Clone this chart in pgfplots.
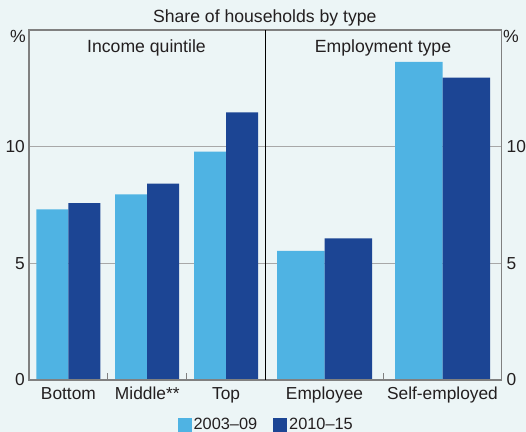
\documentclass[border=0pt]{standalone}
\usepackage{fontspec}
\setmainfont{Liberation Sans}
\usepackage{pgfplots}
\pgfplotsset{compat=1.18}

\definecolor{bg}{HTML}{ECF5F6}
\definecolor{lightbar}{HTML}{4FB3E3}
\definecolor{darkbar}{HTML}{1C4594}
\definecolor{framec}{HTML}{808080}
\definecolor{gridc}{HTML}{A8A8A8}
\definecolor{txt}{HTML}{231F20}

\pgfplotsset{
  panel/.style={
    scale only axis, height=350bp, anchor=south west,
    ymin=0, ymax=15, ytick={0,5,10},
    ybar=0pt,
    axis line style={draw=none},
    ymajorgrids, grid style={gridc, line width=0.9bp},
    major tick length=0pt,
    tick align=inside, xtick pos=left,
    tick label style={font=\fontsize{17.4}{20}\selectfont, text=txt},
    /pgf/number format/assume math mode=true,
    xticklabel style={anchor=base, yshift=-19bp},
    extra x tick labels={},
    extra x tick style={major tick length=7bp, tick style={framec, line width=1.1bp}},
  },
  sq/.style={legend image code/.code={\fill[##1] (0bp,-7bp) rectangle (14bp,7bp);}},
}

\begin{document}
\begin{tikzpicture}
\fill[bg] (0,0) rectangle (526bp,432bp);
\path[use as bounding box] (0,0) rectangle (526bp,432bp);

% income quintile
\begin{axis}[panel, at={(29bp,52bp)}, width=236.5bp, bar width=32bp,
    xmin=-0.5, xmax=2.5, xtick={0,1,2},
    xticklabels={Bottom, Middle**, Top},
    extra x ticks={0.5,1.5},
    yticklabel pos=left,
    yticklabel style={anchor=east, inner sep=0pt, xshift=-4bp},
    legend columns=2,
    legend style={at={(1.003,-0.1286)}, anchor=center, draw=none, fill=none,
      font=\fontsize{16.4}{18}\selectfont, text=txt,
      /tikz/every even column/.append style={column sep=14bp}},
  ]
\addplot[fill=lightbar, draw=none, sq] coordinates {(0,7.31) (1,7.96) (2,9.79)};
\addlegendentry{2003--09}
\addplot[fill=darkbar, draw=none, sq] coordinates {(0,7.58) (1,8.42) (2,11.47)};
\addlegendentry{2010--15}
\end{axis}

% employment type
\begin{axis}[panel, at={(265.5bp,52bp)}, width=236bp, bar width=47.5bp,
    xmin=-0.5, xmax=1.5, xtick={0,1},
    xticklabels={Employee, Self-employed},
    extra x ticks={0.5},
    yticklabel pos=right,
    yticklabel style={anchor=west, inner sep=0pt, xshift=5bp},
  ]
\addplot[fill=lightbar, draw=none] coordinates {(0,5.53) (1,13.63)};
\addplot[fill=darkbar, draw=none] coordinates {(0,6.07) (1,12.96)};
\end{axis}

\draw[framec, line width=1.3bp] (29bp,52bp) rectangle (501.5bp,402bp);
\draw[black, line width=0.9bp] (265.5bp,52bp) -- (265.5bp,402bp);

\begin{scope}[every node/.style={font=\fontsize{17.7}{20}\selectfont, text=txt, inner sep=0pt}]
\node[anchor=base] at (264.8bp,409.5bp) {Share of households by type};
\node[anchor=base] at (146.5bp,379.7bp) {Income quintile};
\node[anchor=base] at (383bp,379.7bp) {Employment type};
\node[anchor=base] at (18bp,389bp) {\%};
\node[anchor=base] at (511bp,389bp) {\%};
\end{scope}
\end{tikzpicture}
\end{document}
